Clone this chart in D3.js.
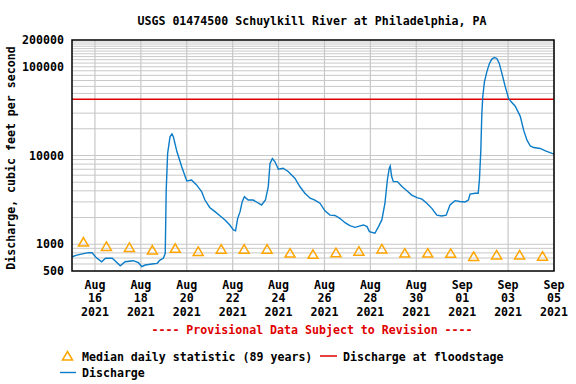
<!DOCTYPE html>
<html>
<head>
<meta charset="utf-8">
<script src="https://cdn.jsdelivr.net/npm/d3@7"></script>
<style>
  body { margin: 0; background: #fff; }
  text { font-family: "DejaVu Sans Mono", monospace; font-weight: bold; font-size: 11.6px; }
</style>
</head>
<body>
<svg width="576" height="384"></svg>
<script>
// discharge readings (cfs), USGS 01474500, Aug 15 - Sep 5 2021
var flowTimes = [
  "08-15 00:00", "08-15 05:00", "08-15 17:00", "08-15 21:00", "08-16 01:00", "08-16 07:00",
  "08-16 11:00", "08-16 18:00", "08-16 21:00", "08-17 02:30", "08-17 07:30", "08-17 16:00",
  "08-17 21:30", "08-18 01:00", "08-18 04:30", "08-18 11:30", "08-18 17:00", "08-18 20:00",
  "08-18 23:30", "08-19 01:30", "08-19 02:30", "08-19 04:00", "08-19 06:30", "08-19 08:30",
  "08-19 10:00", "08-19 13:45", "08-19 18:45", "08-20 00:00", "08-20 05:00", "08-20 10:15",
  "08-20 15:30", "08-20 19:00", "08-21 00:00", "08-21 05:30", "08-21 11:00", "08-21 16:00",
  "08-21 21:00", "08-22 00:45", "08-22 03:00", "08-22 05:15", "08-22 07:45", "08-22 10:00",
  "08-22 12:15", "08-22 16:15", "08-22 21:30", "08-23 03:00", "08-23 06:15", "08-23 10:15",
  "08-23 13:15", "08-23 15:00", "08-23 17:30", "08-23 20:15", "08-23 23:45", "08-24 04:45",
  "08-24 10:00", "08-24 17:00", "08-24 22:15", "08-25 03:30", "08-25 09:00", "08-25 14:00",
  "08-25 19:15", "08-26 00:30", "08-26 05:45", "08-26 11:00", "08-26 16:00", "08-26 21:30",
  "08-27 02:30", "08-27 08:00", "08-27 13:15", "08-27 16:45", "08-27 20:30", "08-27 23:00",
  "08-28 04:45", "08-28 08:30", "08-28 12:00", "08-28 15:15", "08-28 17:45", "08-28 19:45",
  "08-28 20:45", "08-28 22:15", "08-29 00:00", "08-29 04:15", "08-29 09:00", "08-29 14:30",
  "08-29 19:15", "08-30 00:45", "08-30 06:00", "08-30 11:00", "08-30 16:15", "08-30 21:30",
  "08-31 02:30", "08-31 07:15", "08-31 11:15", "08-31 16:30", "08-31 21:30", "09-01 03:00",
  "09-01 06:30", "09-01 08:15", "09-01 13:30", "09-01 16:45", "09-01 18:00", "09-01 19:30",
  "09-01 20:30", "09-01 21:30", "09-01 23:15", "09-02 01:45", "09-02 04:30", "09-02 07:00",
  "09-02 09:45", "09-02 12:15", "09-02 14:45", "09-02 17:30", "09-02 21:00", "09-03 00:30",
  "09-03 03:00", "09-03 07:30", "09-03 12:45", "09-03 16:15", "09-03 19:45", "09-03 23:15",
  "09-04 02:45", "09-04 09:30", "09-04 15:00", "09-04 22:00", "09-05 00:00"
];
var flowValues = [
  724, 756, 804, 804, 713, 636,
  695, 696, 653, 573, 636, 653,
  620, 559, 584, 599, 610, 664,
  695, 790, 4090, 10550, 16250, 17500,
  16250, 11000, 7480, 5170, 5300, 4660,
  3920, 3150, 2600, 2330, 2080, 1880,
  1650, 1450, 1420, 1960, 2330, 3020,
  3440, 3150, 3150, 2900, 2770, 3150,
  4470, 8100, 9230, 8500, 7000, 7190,
  6600, 5560, 4470, 3760, 3300, 3150,
  2900, 2380, 2130, 2110, 1960, 1750,
  1620, 1550, 1610, 1650, 1580, 1390,
  1330, 1580, 1880, 2900, 5300, 7190,
  7600, 5800, 5080, 5080, 4470, 3980,
  3580, 3350, 3220, 2900, 2540, 2130,
  2080, 2130, 2770, 3100, 3030, 3000,
  3150, 3680, 3760, 3760, 5300, 11500,
  28500, 45600, 67400, 87500, 109000, 122000,
  127000, 124000, 109000, 84000, 59700, 44000,
  40500, 35900, 27600, 19300, 14900, 12800,
  12300, 12000, 11270, 10550, 10400
];

// median daily statistic (89 years), one per day
var medianDays = ["08-15", "08-16", "08-17", "08-18", "08-19", "08-20", "08-21", "08-22", "08-23",
  "08-24", "08-25", "08-26", "08-27", "08-28", "08-29", "08-30", "08-31", "09-01", "09-02", "09-03", "09-04"];
var medianValues = [1060, 945, 920, 860, 900, 830, 880, 880, 880,
  795, 770, 805, 835, 885, 795, 795, 790, 730, 758, 758, 735];

var floodDischarge = 43000;

var yTickValues = [500, 1000, 10000, 100000, 200000];
var yGridValues = [600, 700, 800, 900, 1000, 2000, 3000, 4000, 5000, 6000, 7000, 8000, 9000,
  10000, 20000, 30000, 50000, 60000, 70000, 80000, 90000, 100000,
  110000, 120000, 130000, 140000, 150000, 160000, 170000, 180000, 190000];

var svg = d3.select("svg");
var parseTime = d3.timeParse("%Y-%m-%d %H:%M");
var flow = flowTimes.map(function (t, i) {
  return { date: parseTime("2021-" + t), value: flowValues[i] };
});
var medians = medianDays.map(function (t, i) {
  return { date: parseTime("2021-" + t + " 12:00"), value: medianValues[i] };
});

var x = d3.scaleTime()
  .domain([parseTime("2021-08-15 00:00"), parseTime("2021-09-05 00:00")])
  .range([72, 554]);
var y = d3.scaleLog().domain([500, 200000]).range([271, 40]);

// a tick every second day from Aug 16
var xTicks = d3.timeDay.range(parseTime("2021-08-16 00:00"), parseTime("2021-09-05 01:00"), 2);

// grid
svg.append("g").selectAll("line").data(yGridValues).enter().append("line")
  .attr("x1", 72).attr("x2", 554)
  .attr("y1", function (d) { return y(d); })
  .attr("y2", function (d) { return y(d); })
  .attr("stroke", "#c8c8c8").attr("stroke-width", 1);

svg.append("g").selectAll("line").data(xTicks).enter().append("line")
  .attr("x1", function (d) { return x(d); })
  .attr("x2", function (d) { return x(d); })
  .attr("y1", 40).attr("y2", 271)
  .attr("stroke", "#c8c8c8").attr("stroke-width", 1.2);

// flood stage
svg.append("line")
  .attr("x1", 72).attr("x2", 554)
  .attr("y1", y(floodDischarge)).attr("y2", y(floodDischarge))
  .attr("stroke", "#e00000").attr("stroke-width", 1.5);

// medians
var tri = "M0,-4.5L5,4L-5,4Z";
svg.append("g").selectAll("path").data(medians).enter().append("path")
  .attr("d", tri)
  .attr("transform", function (d) { return "translate(" + x(d.date) + "," + y(d.value) + ")"; })
  .attr("fill", "none").attr("stroke", "#ffa500").attr("stroke-width", 1.5);

// discharge
var line = d3.line()
  .x(function (d) { return x(d.date); })
  .y(function (d) { return y(d.value); });
svg.append("path").datum(flow)
  .attr("d", line)
  .attr("fill", "none").attr("stroke", "#0a7cc8").attr("stroke-width", 1.4);

// frame
svg.append("rect")
  .attr("x", 72).attr("y", 40).attr("width", 482).attr("height", 231)
  .attr("fill", "none").attr("stroke", "#000").attr("stroke-width", 1.5);

// y axis
var yAxis = svg.append("g").attr("transform", "translate(72,0)")
  .call(d3.axisLeft(y).tickValues(yTickValues).tickSize(0).tickPadding(8).tickFormat(d3.format("d")));
yAxis.select(".domain").remove();
yAxis.selectAll("text").attr("fill", "#000").style("font-size", "11.6px")
  .style("font-family", "'DejaVu Sans Mono', monospace").style("font-weight", "bold");

// x axis labels
var fmtMon = d3.timeFormat("%b"), fmtDay = d3.timeFormat("%d"), fmtYear = d3.timeFormat("%Y");
var xl = svg.append("g").selectAll("text").data(xTicks).enter().append("text")
  .attr("text-anchor", "middle")
  .attr("x", function (d) { return x(d); })
  .attr("y", 288.5);
xl.append("tspan").text(function (d) { return fmtMon(d); });
xl.append("tspan").attr("x", function (d) { return x(d); }).attr("dy", 13.5)
  .text(function (d) { return fmtDay(d); });
xl.append("tspan").attr("x", function (d) { return x(d); }).attr("dy", 13.5)
  .text(function (d) { return fmtYear(d); });

// titles
svg.append("text").attr("x", 312).attr("y", 24.5).attr("text-anchor", "middle")
  .text("USGS 01474500 Schuylkill River at Philadelphia, PA");
svg.append("text").attr("transform", "translate(15,158) rotate(-90)").attr("text-anchor", "middle")
  .text("Discharge, cubic feet per second");
svg.append("text").attr("x", 312).attr("y", 333.5).attr("text-anchor", "middle").attr("fill", "#e00000")
  .text("---- Provisional Data Subject to Revision ----");

// legend
svg.append("path").attr("d", tri).attr("transform", "translate(67.5,356)")
  .attr("fill", "none").attr("stroke", "#ffa500").attr("stroke-width", 1.5);
svg.append("text").attr("x", 82).attr("y", 361).text("Median daily statistic (89 years)");
svg.append("line").attr("x1", 320).attr("x2", 337).attr("y1", 356).attr("y2", 356)
  .attr("stroke", "#e00000").attr("stroke-width", 1.5);
svg.append("text").attr("x", 343).attr("y", 361).text("Discharge at floodstage");
svg.append("line").attr("x1", 60).attr("x2", 76).attr("y1", 372.5).attr("y2", 372.5)
  .attr("stroke", "#0a7cc8").attr("stroke-width", 1.4);
svg.append("text").attr("x", 82).attr("y", 377).text("Discharge");
</script>
</body>
</html>
